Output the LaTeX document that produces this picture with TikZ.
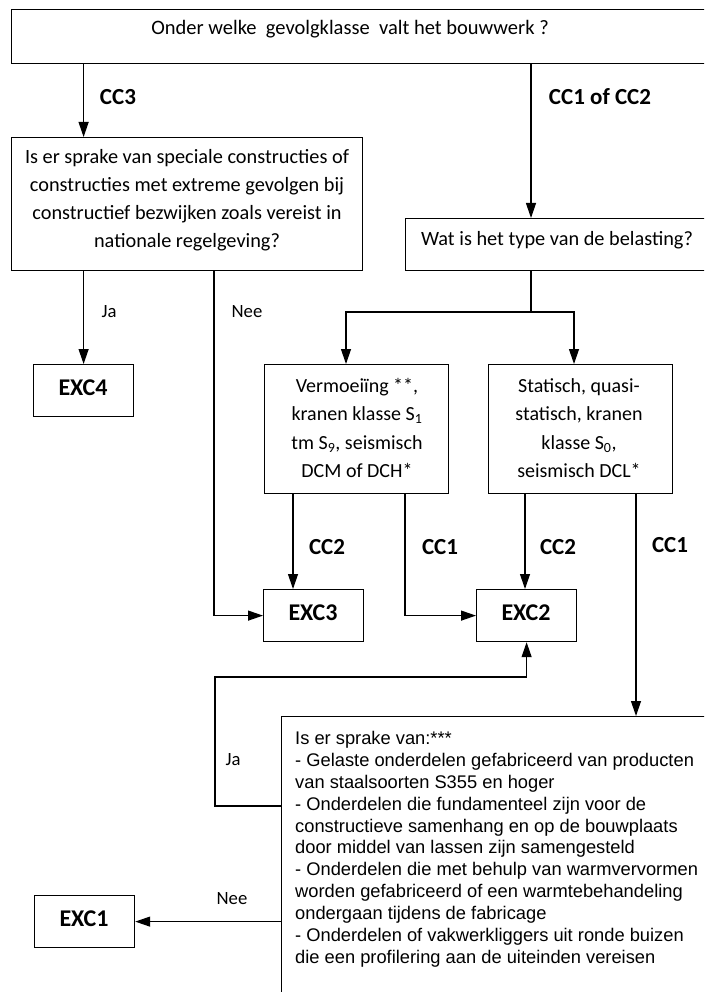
\documentclass[tikz,border=0pt]{standalone}
\usepackage{fontspec}
\setmainfont{Carlito}
\newfontfamily\arialf{Liberation Sans}
\usetikzlibrary{arrows.meta}
\begin{document}
\begin{tikzpicture}[x=1pt,y=-1pt,
  box/.style={draw=black,line width=1.2pt,rectangle,inner sep=0pt,anchor=north west},
  arr/.style={draw=black,line width=1.2pt,-{Triangle[length=15pt,width=10pt]}},
  ln/.style={draw=black,line width=1.2pt},
  txt/.style={inner sep=0pt,align=center,font=\fontsize{20.3}{28.2}\selectfont},
  vtxt/.style={inner sep=0pt,align=center,font=\fontsize{20}{28.3}\selectfont},
  btxt/.style={inner sep=0pt,align=center,font=\fontsize{23}{26}\selectfont\bfseries},
  etxt/.style={inner sep=0pt,align=center,font=\fontsize{24}{26}\selectfont\bfseries},
  lbl/.style={inner sep=0pt,font=\fontsize{18.7}{22}\selectfont},
  exc/.style={box,minimum width=100pt,minimum height=52pt}
]
\clip (0,0) rectangle (704,992);
\fill[white] (0,0) rectangle (704,992);
% boxes
\node[box,minimum width=720pt,minimum height=54pt] (q1) at (11,9) {};
\node[txt,font=\fontsize{20.5}{26}\selectfont] (q1t) at (350,29) {Onder welke \ gevolgklasse \ valt het bouwwerk ?};
\node[box,minimum width=351pt,minimum height=133pt] (q2) at (11,137) {};
\node[txt] (q2t) at (187,200) {Is er sprake van speciale constructies of\\constructies met extreme gevolgen bij\\constructief bezwijken zoals vereist in\\nationale regelgeving?};
\node[box,minimum width=320pt,minimum height=52pt] (wat) at (405,218) {};
\node[txt] (watt) at (557,240) {Wat is het type van de belasting?};
\node[exc] (ex4) at (33,364) {};
\node[etxt] (ex4t) at (83,388) {EXC4};
\node[box,minimum width=184pt,minimum height=129pt] (verm) at (264,364) {};
\node[vtxt] (vermt) at (357,428) {Vermoeiïng **,\\kranen klasse S\textsubscript{1}\\tm S\textsubscript{9}, seismisch\\DCM of DCH*};
\node[box,minimum width=184pt,minimum height=129pt] (stat) at (488,364) {};
\node[vtxt] (statt) at (579,428) {Statisch, quasi-\\statisch, kranen\\klasse S\textsubscript{0},\\seismisch DCL*};
\node[exc] (ex3) at (263,589) {};
\node[etxt] (ex3t) at (313,613) {EXC3};
\node[exc] (ex2) at (476,589) {};
\node[etxt] (ex2t) at (526,613) {EXC2};
\node[exc] (ex1) at (34,895) {};
\node[etxt] (ex1t) at (84,919) {EXC1};
\node[box,minimum width=450pt,minimum height=320pt] (qb) at (281,716) {};
\node[inner sep=0pt,anchor=north west,align=left,font=\arialf\fontsize{18.3}{21.9}\selectfont] (qbt) at (295,731)
 {Is er sprake van:***\\- Gelaste onderdelen gefabriceerd van producten\\van staalsoorten S355 en hoger\\- Onderdelen die fundamenteel zijn voor de\\constructieve samenhang en op de bouwplaats\\door middel van lassen zijn samengesteld\\- Onderdelen die met behulp van warmvervormen\\worden gefabriceerd of een warmtebehandeling\\ondergaan tijdens de fabricage\\- Onderdelen of vakwerkliggers uit ronde buizen\\die een profilering aan de uiteinden vereisen};
% coordinates
\coordinate (xA) at (531,0);
\coordinate (br) at (531,312);
\coordinate (xVin) at (346,0);
\coordinate (xSin) at (574,0);
\coordinate (xNee) at (214,0);
\coordinate (xV2) at (293,0);
\coordinate (xV1) at (405,0);
\coordinate (xS2) at (525,0);
\coordinate (xS1) at (636,0);
\coordinate (jaL) at (215,806);
\coordinate (jaT) at (215,677);
% connectors
\draw[arr] (q1.south -| ex4.north) -- (q2.north -| ex4.north);
\draw[arr] (q1.south -| xA) -- (wat.north -| xA);
\draw[arr] (q2.south -| ex4.north) -- (ex4.north);
\draw[arr] (q2.south -| xNee) |- (ex3.west);
\draw[ln] (wat.south -| br) -- (br);
\draw[arr] (br) -| (verm.north -| xVin);
\draw[arr] (br) -| (stat.north -| xSin);
\draw[arr] (verm.south -| xV2) -- (ex3.north -| xV2);
\draw[arr] (verm.south -| xV1) |- (ex2.west);
\draw[arr] (stat.south -| xS2) -- (ex2.north -| xS2);
\draw[arr] (stat.south -| xS1) -- (qb.north -| xS1);
\draw[arr] (qb.west |- jaL) -- (jaL) -- (jaT) -- (jaT -| ex2.south) -- (ex2.south);
\draw[arr] (qb.west |- ex1.east) -- (ex1.east);
% labels
\node[btxt] (lcc3) at (118,97) {CC3};
\node[btxt] (lcc12) at (600,97) {CC1 of CC2};
\node[lbl] (lja1) at (109,312) {Ja};
\node[lbl] (lnee1) at (247,312) {Nee};
\node[btxt] (lcc2a) at (327,547) {CC2};
\node[btxt] (lcc1a) at (440,547) {CC1};
\node[btxt] (lcc2b) at (558,547) {CC2};
\node[btxt] (lcc1b) at (670,545) {CC1};
\node[lbl] (lja2) at (233,760) {Ja};
\node[lbl] (lnee2) at (232,899) {Nee};
\end{tikzpicture}
\end{document}
